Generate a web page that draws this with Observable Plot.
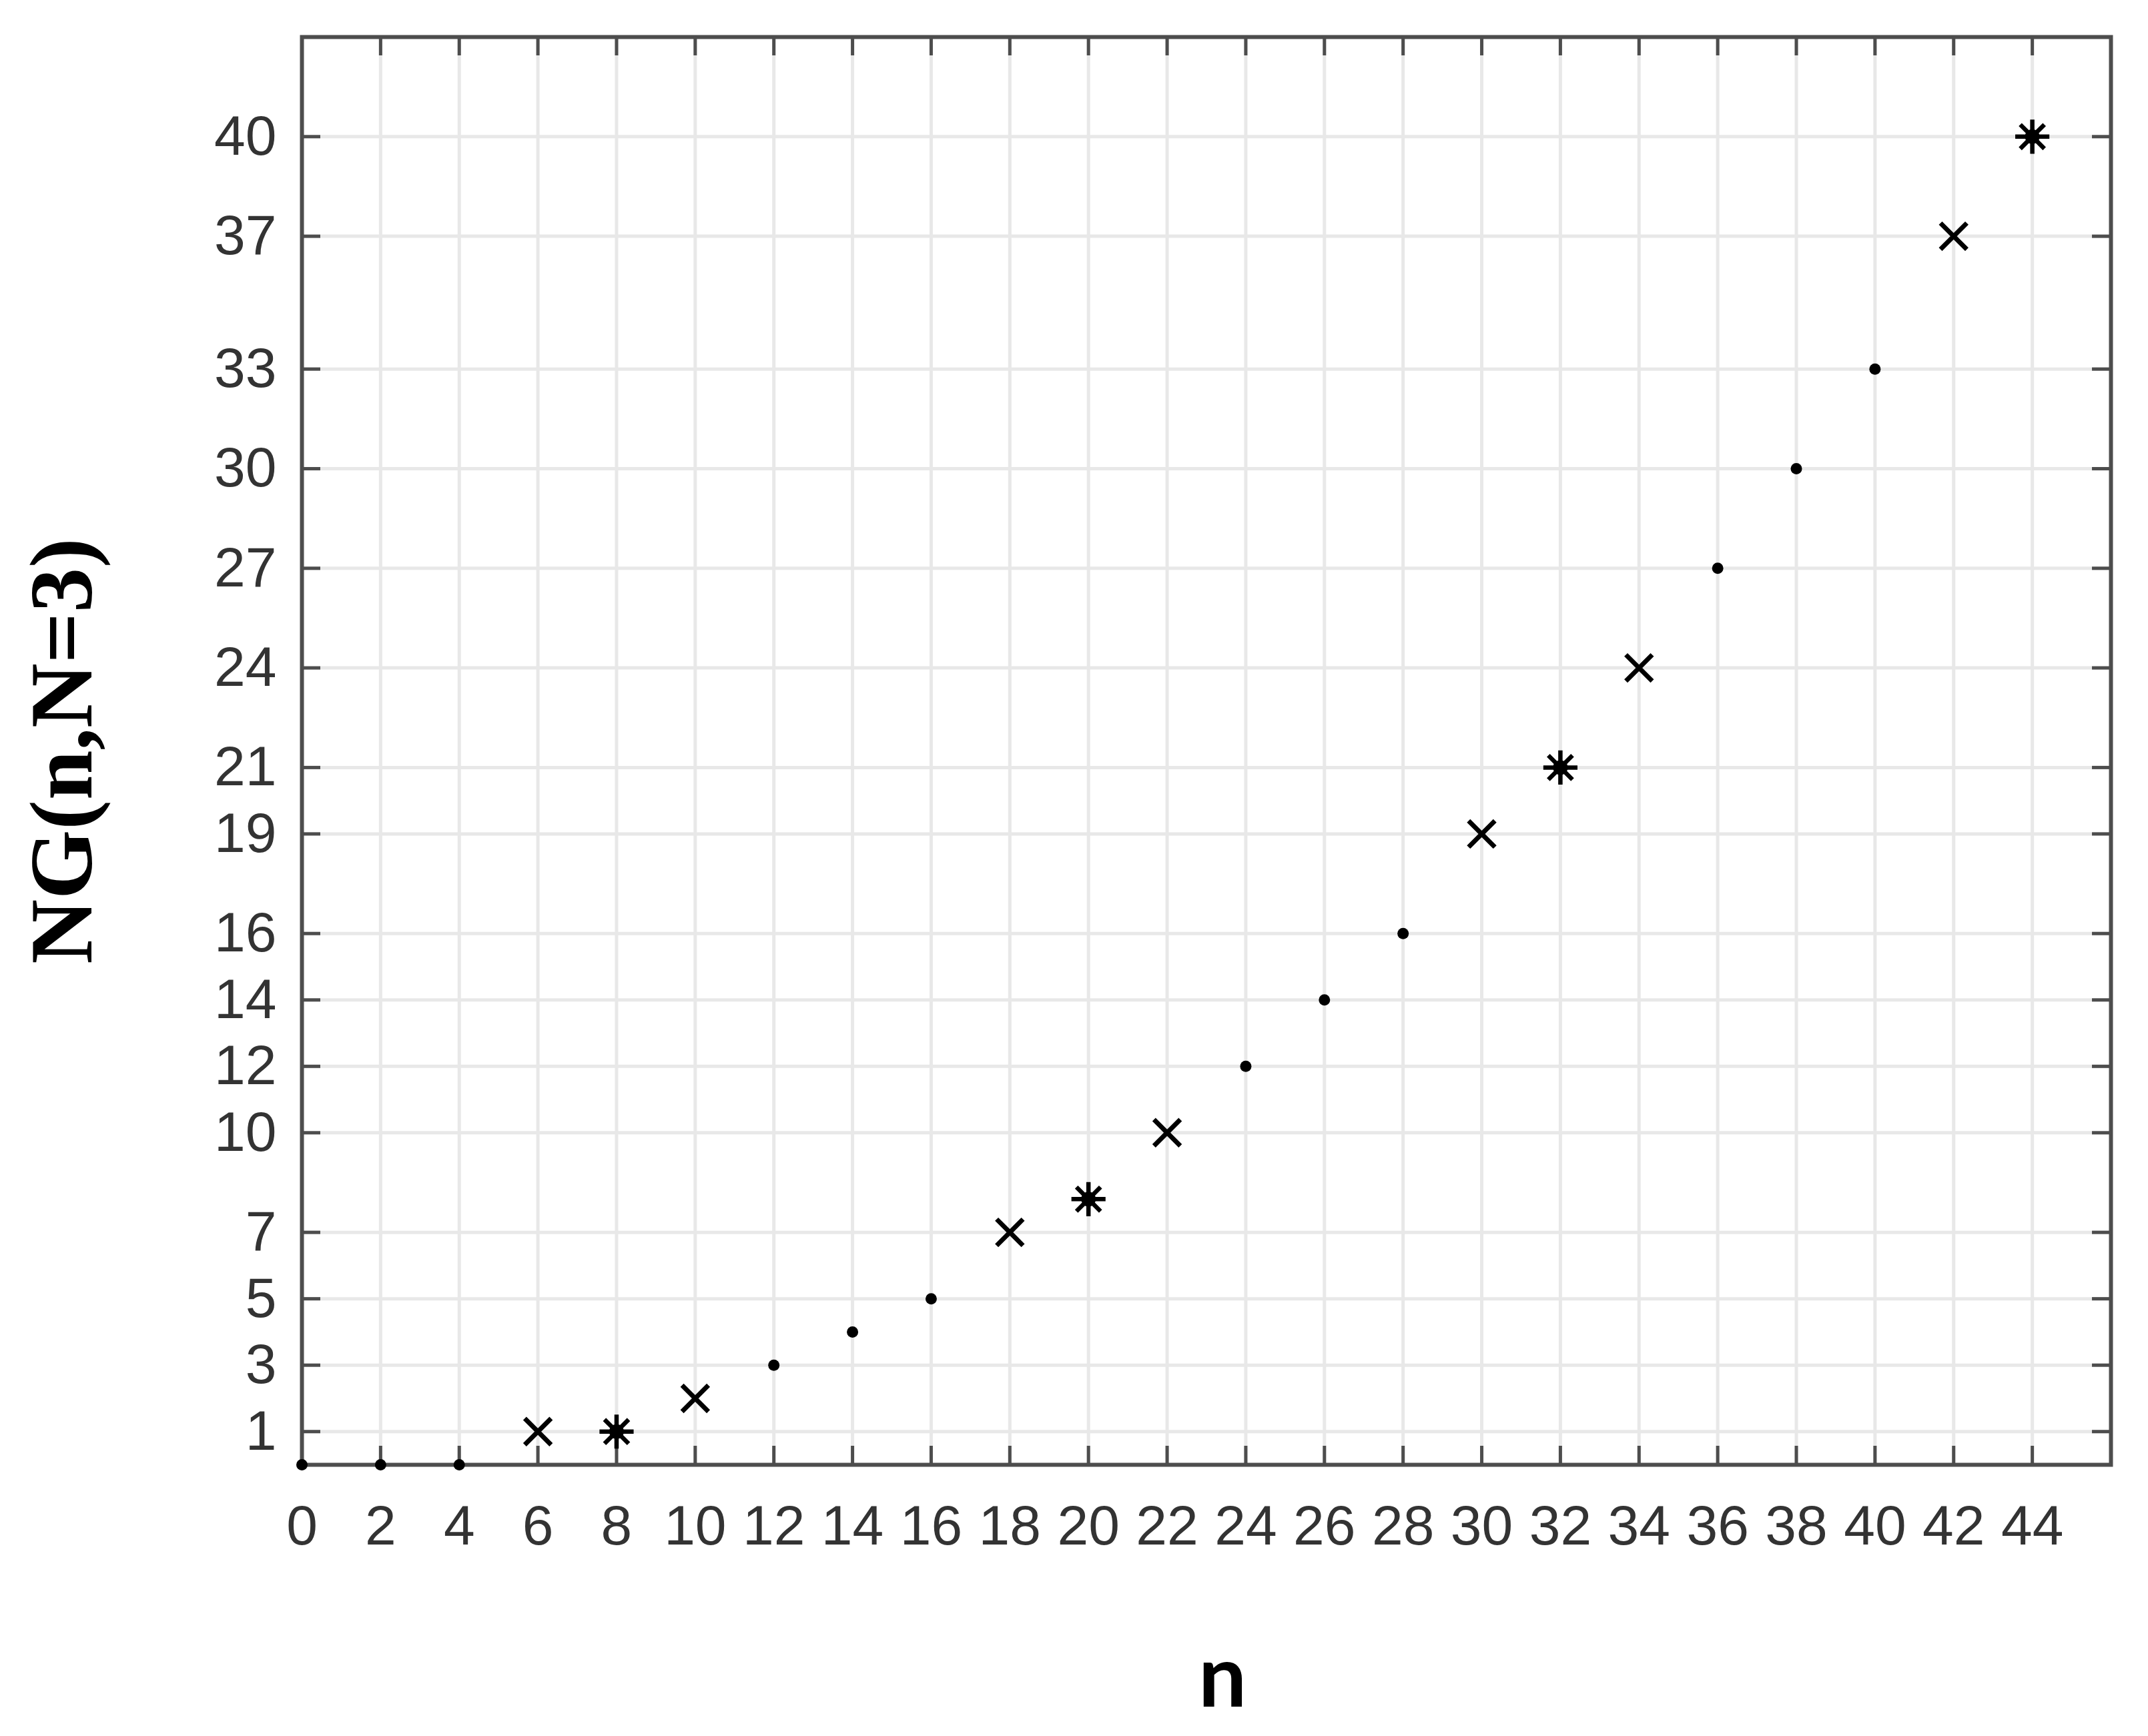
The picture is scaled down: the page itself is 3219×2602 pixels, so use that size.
<!DOCTYPE html>
<html>
<head>
<meta charset="utf-8">
<script src="https://cdn.jsdelivr.net/npm/d3@7"></script>
<script src="https://cdn.jsdelivr.net/npm/@observablehq/plot@0.6"></script>
<style>
  html, body { margin: 0; padding: 0; background: #ffffff; }
</style>
</head>
<body>
<div id="chart"></div>
<script>
// ---- data ----
const nValues   = [0, 2, 4, 6, 8, 10, 12, 14, 16, 18, 20, 22, 24, 26, 28, 30, 32, 34, 36, 38, 40, 42, 44];
const ngValues  = [0, 0, 0, 1, 1, 2, 3, 4, 5, 7, 8, 10, 12, 14, 16, 19, 21, 24, 27, 30, 33, 37, 40];
const markers   = ["dot","dot","dot","x","star","x","dot","dot","dot","x","star","x","dot","dot","dot","x","star","x","dot","dot","dot","x","star"];
const xTicks    = [0, 2, 4, 6, 8, 10, 12, 14, 16, 18, 20, 22, 24, 26, 28, 30, 32, 34, 36, 38, 40, 42, 44];
const yTicks    = [1, 3, 5, 7, 10, 12, 14, 16, 19, 21, 24, 27, 30, 33, 37, 40];
const xLabel    = "n";
const yLabel    = "NG(n,N=3)";

const rows = nValues.map((n, i) => ({n, ng: ngValues[i], m: markers[i]}));
const dots  = rows.filter(d => d.m === "dot");
const exes  = rows.filter(d => d.m === "x");
const stars = rows.filter(d => d.m === "star");

// ---- layout ----
const W = 3219, H = 2602;
const mL = 452, mR = 56, mT = 55, mB = 407;
const plotW = W - mL - mR, plotH = H - mT - mB;
const tickLen = 28;
const axisColor = "#4d4d4d";
const gridColor = "#e8e8e8";
const fmt = d3.format("d");

const chart = Plot.plot({
  width: W,
  height: H,
  marginLeft: mL,
  marginRight: mR,
  marginTop: mT,
  marginBottom: mB,
  style: {fontFamily: "'Liberation Sans', Arial, sans-serif", fontSize: "84px", background: "#ffffff"},
  x: {domain: [0, 46]},
  y: {domain: [0, 43]},
  marks: [
    Plot.gridX(xTicks, {stroke: gridColor, strokeOpacity: 1, strokeWidth: 5}),
    Plot.gridY(yTicks, {stroke: gridColor, strokeOpacity: 1, strokeWidth: 5}),
    Plot.frame({stroke: axisColor, strokeWidth: 6}),
    // inward ticks on all four sides
    Plot.tickX(xTicks, {x: d => d, insetTop: plotH - tickLen, stroke: axisColor, strokeWidth: 5}),
    Plot.tickX(xTicks, {x: d => d, insetBottom: plotH - tickLen, stroke: axisColor, strokeWidth: 5}),
    Plot.tickY(yTicks, {y: d => d, insetRight: plotW - tickLen, stroke: axisColor, strokeWidth: 5}),
    Plot.tickY(yTicks, {y: d => d, insetLeft: plotW - tickLen, stroke: axisColor, strokeWidth: 5}),
    // tick labels
    Plot.axisX(xTicks, {anchor: "bottom", tickSize: 0, tickPadding: 60, fontSize: 84, color: "#333333", label: null, tickFormat: fmt}),
    Plot.axisY(yTicks, {anchor: "left", tickSize: 0, tickPadding: 38, fontSize: 84, color: "#333333", label: null, tickFormat: fmt}),
    // markers
    Plot.dot(dots, {x: "n", y: "ng", r: 8.5, fill: "black"}),
    Plot.dot(exes, {x: "n", y: "ng", symbol: "times", r: 18, stroke: "black", strokeWidth: 7}),
    Plot.dot(stars, {x: "n", y: "ng", symbol: "plus", r: 16.5, stroke: "black", strokeWidth: 6.5}),
    Plot.dot(stars, {x: "n", y: "ng", symbol: "times", r: 16.5, stroke: "black", strokeWidth: 6.5}),
    Plot.dot(stars, {x: "n", y: "ng", r: 11, fill: "black"}),
    // axis titles
    Plot.text([yLabel], {
      text: d => d, frameAnchor: "left", dx: 94 - mL, rotate: -90,
      textAnchor: "middle", lineAnchor: "middle",
      fontFamily: "'Liberation Serif', 'Times New Roman', serif", fontWeight: "bold",
      fontSize: 134, fill: "black"
    }),
    Plot.text([xLabel], {
      text: d => d, frameAnchor: "bottom", dx: 24, dy: 322,
      textAnchor: "middle", lineAnchor: "middle",
      fontFamily: "Lato, 'Open Sans', sans-serif", fontWeight: "bold",
      fontSize: 128, fill: "black"
    })
  ]
});

document.getElementById("chart").appendChild(chart);
</script>
</body>
</html>
